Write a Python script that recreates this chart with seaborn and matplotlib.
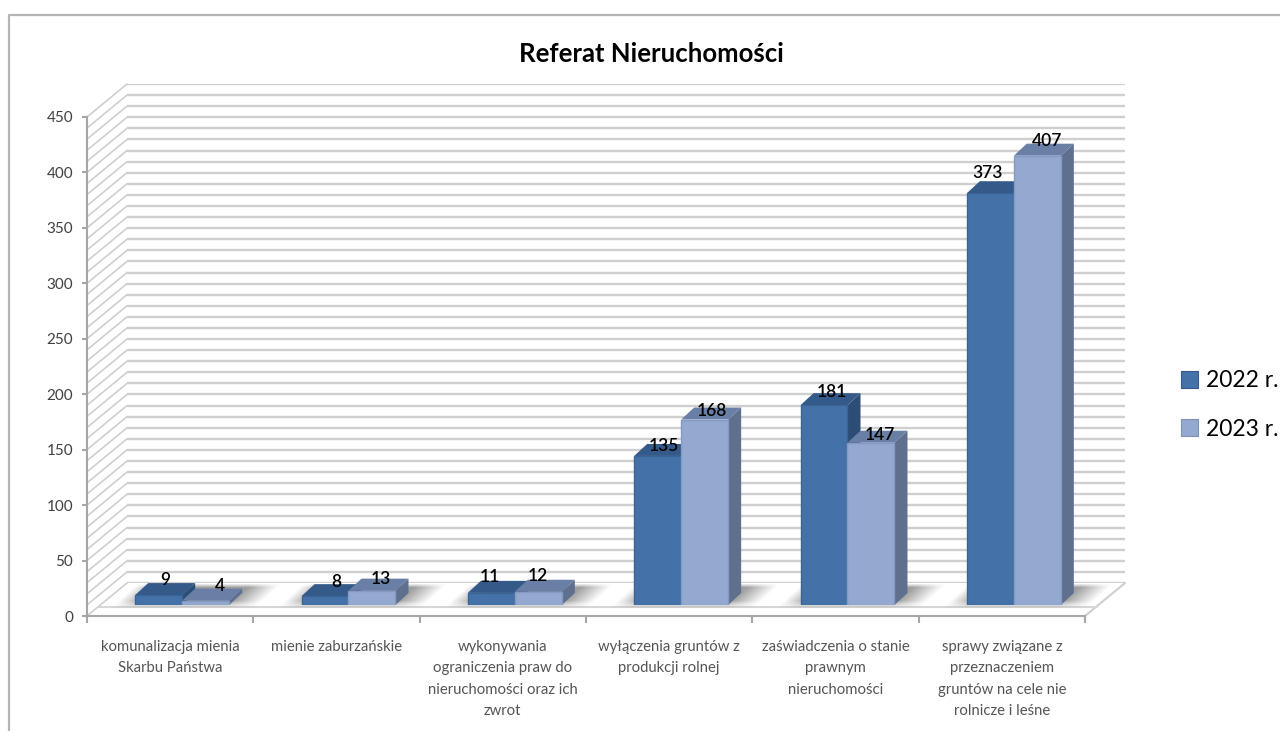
import numpy as np
import pandas as pd
import matplotlib
matplotlib.use('Agg')
import matplotlib.pyplot as plt
from matplotlib.patches import Polygon
import seaborn as sns

categories = ['komunalizacja mienia\nSkarbu Państwa',
              'mienie zaburzańskie',
              'wykonywania\nograniczenia praw do\nnieruchomości oraz ich\nzwrot',
              'wyłączenia gruntów z\nprodukcji rolnej',
              'zaświadczenia o stanie\nprawnym\nnieruchomości',
              'sprawy związane z\nprzeznaczeniem\ngruntów na cele nie\nrolnicze i leśne']
values_2022 = [9, 8, 11, 135, 181, 373]
values_2023 = [4, 13, 12, 168, 147, 407]
series_names = ['2022 r.', '2023 r.']
y_ticks = list(range(0, 451, 50))

# label nudges in pixels, the original labels sit a bit unevenly
nudge_2022 = [(7, 15), (11, 14), (-2, 16), (6, 10), (8, 13), (-3, 20)]
nudge_2023 = [(14, 15), (9, 12), (0, 16), (7, 9), (9, 8), (10, 15)]

front = ['#4472a8', '#94a9d0']
edges = ['#3a6496', '#8499c4']
top = ['#335a88', '#6a7fa5']
side = ['#2c4d75', '#5f6f8e']
grid_col = '#cfcfcf'
frame_col = '#b5b5b5'
axis_col = '#a6a6a6'

W, H = 1280, 731
X0, X1 = 87, 1085      # front edge of floor
Y0, Y450 = 616, 117    # front y axis
WALL = (40, -33)       # offset of back wall
BARS = (12, -11)       # offset of plane with the bars
DEPTH = (13, -12)      # depth of a bar

sns.set_theme(style='white')
plt.rcParams['font.family'] = ['Lato', 'DejaVu Sans']

fig = plt.figure(figsize=(W / 100, H / 100), dpi=100, facecolor='white')


def plane(dx, dy):
    a = fig.add_axes([(X0 + dx) / W, 1 - (Y0 + dy) / H, (X1 - X0) / W, (Y0 - Y450) / H])
    a.set_xlim(-0.5, 5.5)
    a.set_ylim(0, 450)
    a.patch.set_alpha(0)
    return a


# pixel canvas for the frame, floor and shadows
canvas = fig.add_axes([0, 0, 1, 1])
canvas.set_xlim(0, W)
canvas.set_ylim(H, 0)
canvas.axis('off')

canvas.plot([9, 9, W], [H, 15, 15], color=frame_col, lw=1.6)

# shadows on the floor
step = (X1 - X0) / 6
yy, xx = np.mgrid[583:608, 100:1130]
rgba = np.zeros(xx.shape + (4,))
rgba[..., :3] = 0.5
u = xx - (605 - yy) * 1.1
for i in range(6):
    left = 135 + step * i
    a = np.clip((u - (left - 22)) / 24, 0, 1) * np.clip(((left + 122) - u) / 30, 0, 1)
    rgba[..., 3] = np.maximum(rgba[..., 3], a)
rgba[..., 3] *= np.clip((yy - 583) / 4, 0, 1) * np.clip((608 - yy) / 8, 0, 1) * 0.75
canvas.imshow(rgba, extent=(100, 1130, 608, 583), aspect='auto', zorder=2)
canvas.set_xlim(0, W)
canvas.set_ylim(H, 0)

# left wall and floor edges
for v in range(0, 451, 10):
    y = Y0 - (Y0 - Y450) * v / 450
    canvas.plot([X0, X0 + WALL[0]], [y, y + WALL[1]], color=grid_col, lw=1.2, zorder=1)
canvas.plot([X1, X1 + WALL[0]], [Y0, Y0 + WALL[1]], color=grid_col, lw=1.5, zorder=1)
canvas.plot([X0 + 12, X1 + 12], [607, 607], color='#d6d6d6', lw=1.5, zorder=1)

# back wall gridlines
wall = plane(*WALL)
wall.set_yticks(range(0, 451, 10))
wall.set_xticks([])
wall.tick_params(left=False, labelleft=False)
wall.grid(axis='y', color=grid_col, lw=1.7)
wall.set_axisbelow(True)
sns.despine(ax=wall, left=True, bottom=True)

# front axes with the tick labels
axis = plane(0, 0)
axis.set_yticks(y_ticks)
axis.set_xticks(np.arange(-0.5, 6, 1), minor=False)
axis.set_xticklabels([])
axis.set_xticks(range(6), labels=categories, minor=True)
axis.tick_params(axis='y', left=True, length=3.6, width=1.5, color=axis_col, pad=6.5,
                 labelsize=11, labelcolor='#404040')
axis.tick_params(axis='x', which='major', bottom=True, length=5, width=1.5, color=axis_col)
axis.tick_params(axis='x', which='minor', bottom=False, pad=13, labelsize=10.7,
                 labelcolor='#555555')
for t in axis.get_xticklabels(minor=True):
    t.set_linespacing(1.68)
    t.set_verticalalignment('top')
sns.despine(ax=axis)
axis.spines['left'].set(color=axis_col, lw=1.5)
axis.spines['bottom'].set(color=axis_col, lw=1.5)

# bars
df = pd.DataFrame({
    'kategoria': categories * 2,
    'rok': [series_names[0]] * 6 + [series_names[1]] * 6,
    'liczba': values_2022 + values_2023,
})
ax = plane(*BARS)
sns.barplot(data=df, x='kategoria', y='liczba', hue='rok', hue_order=series_names,
            palette=front, width=0.565, gap=0, saturation=1, dodge=True,
            linewidth=0, zorder=5, ax=ax, legend=False)
ax.set_xlim(-0.5, 5.5)
ax.set_ylim(0, 452)
ax.axis('off')

dx = DEPTH[0] * 6 / (X1 - X0)
dy = -DEPTH[1] * 452 / (Y0 - Y450)
for s, (cont, nudges) in enumerate(zip(ax.containers, [nudge_2022, nudge_2023])):
    for bar, (nx, ny) in zip(cont, nudges):
        bar.set(edgecolor=edges[s], linewidth=1)
        x, w, h = bar.get_x(), bar.get_width(), bar.get_height()
        r = x + w
        ax.add_patch(Polygon([(r, 0), (r + dx, dy), (r + dx, h + dy), (r, h)],
                             fc=side[s], ec='none', clip_on=False, zorder=2 + s))
        ax.add_patch(Polygon([(x, h), (x + dx, h + dy), (r + dx, h + dy), (r, h)],
                             fc=top[s], ec='none', clip_on=False, zorder=2 + s))
        ax.annotate(str(int(h)), (x + w / 2, h), xytext=(nx, ny), textcoords='offset pixels',
                    ha='center', va='center', fontsize=12.5, color='black',
                    fontweight='semibold', annotation_clip=False, zorder=8)

canvas.set_zorder(0)
wall.set_zorder(1)
axis.set_zorder(2)
ax.set_zorder(3)

fig.text(651 / W, 1 - 54 / H, 'Referat Nieruchomości', ha='center', va='center',
         fontsize=18.5, fontweight='bold', color='black')

handles = [plt.Rectangle((0, 0), 1, 1, fc=c, ec=e, lw=0.8)
           for c, e in zip(front, ['#35598a', '#7f93b8'])]
fig.legend(handles, series_names, loc='center left', bbox_to_anchor=(1181 / W, 1 - 405 / H),
           frameon=False, fontsize=16.5, handlelength=0.74, handleheight=0.74,
           handletextpad=0.33, labelspacing=1.2, borderpad=0, borderaxespad=0,
           labelcolor='black')

fig.savefig('out.png', dpi=100, facecolor='white')
